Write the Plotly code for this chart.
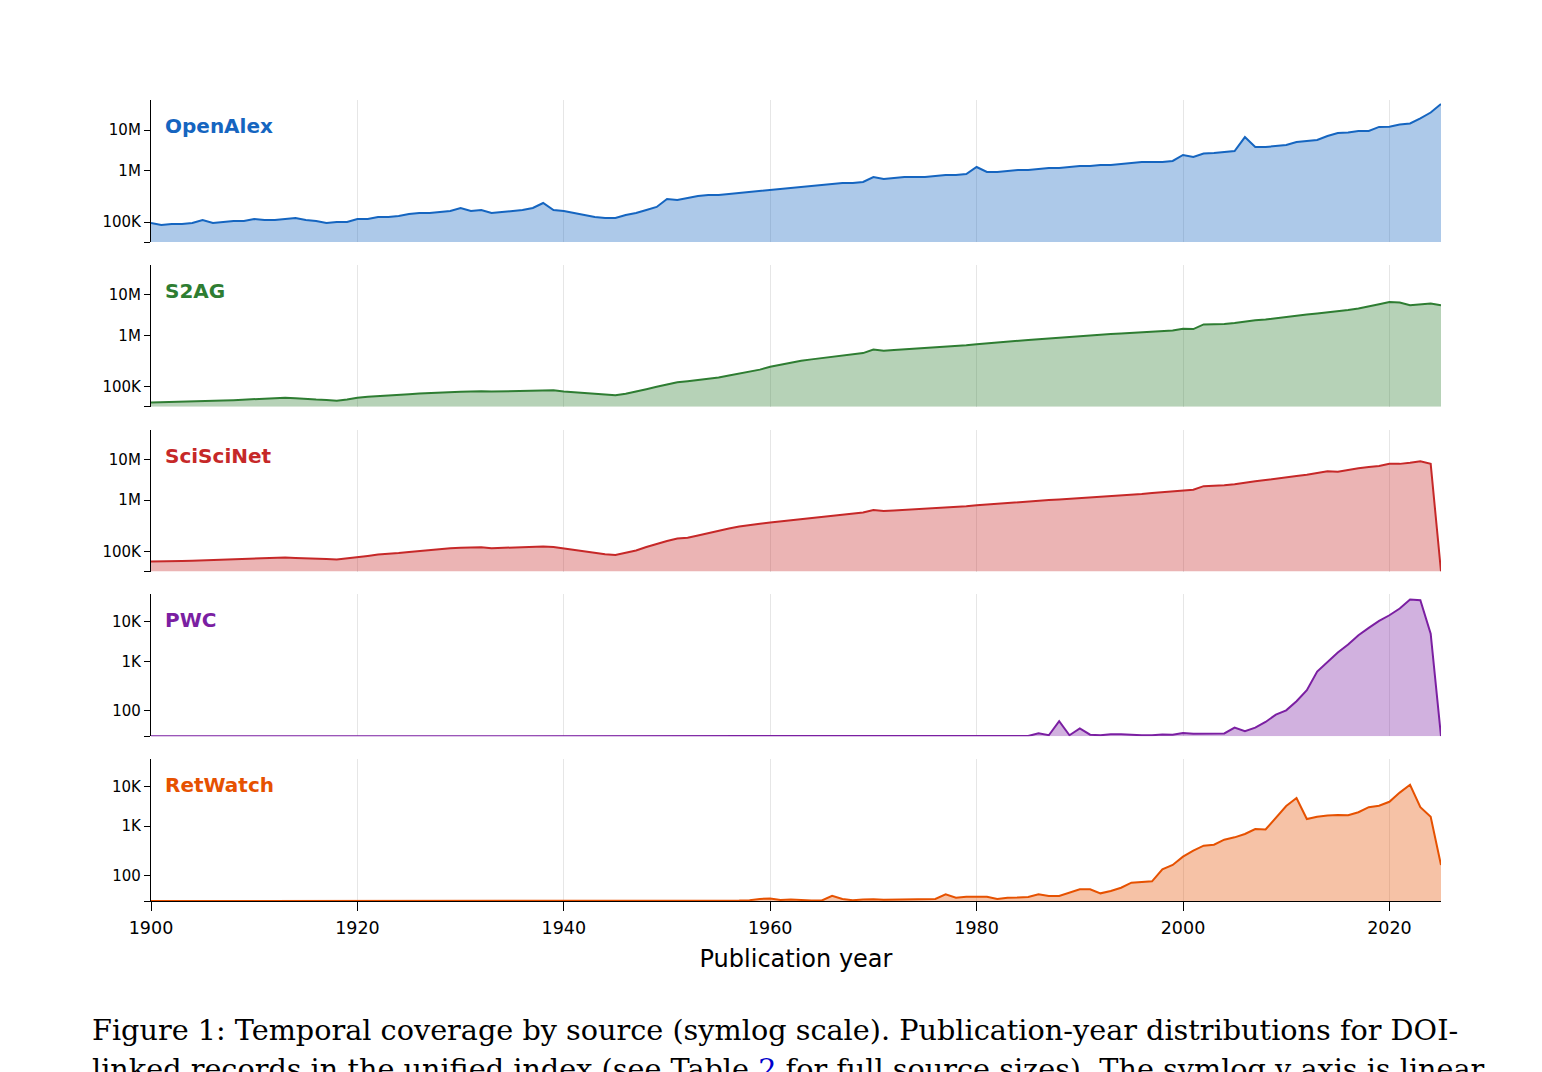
import numpy as np
import plotly.graph_objects as go

years = list(range(1900, 2026))

openalex = [
    95e3, 85e3, 90e3, 90e3, 95e3, 109e3, 95e3, 100e3, 105e3, 105e3,
    114e3, 109e3, 109e3, 114e3, 120e3, 109e3, 105e3, 95e3, 100e3, 100e3,
    114e3, 114e3, 125e3, 125e3, 131e3, 143e3, 150e3, 150e3, 156e3, 163e3,
    187e3, 163e3, 171e3, 150e3, 156e3, 163e3, 171e3, 187e3, 234e3, 171e3,
    163e3, 150e3, 137e3, 125e3, 120e3, 120e3, 137e3, 150e3, 171e3, 196e3,
    280e3, 268e3, 293e3, 320e3, 335e3, 335e3, 350e3, 366e3, 383e3, 400e3,
    418e3, 437e3, 457e3, 478e3, 500e3, 523e3, 547e3, 572e3, 572e3, 598e3,
    748e3, 684e3, 715e3, 748e3, 748e3, 748e3, 782e3, 817e3, 817e3, 855e3,
    1.22e6, 935e3, 935e3, 978e3, 1.03e6, 1.03e6, 1.09e6, 1.15e6, 1.15e6, 1.22e6,
    1.29e6, 1.29e6, 1.37e6, 1.37e6, 1.45e6, 1.53e6, 1.62e6, 1.62e6, 1.62e6, 1.72e6,
    2.42e6, 2.15e6, 2.63e6, 2.7e6, 2.86e6, 3.03e6, 6.7e6, 3.8e6, 3.8e6, 4.03e6,
    4.27e6, 5.06e6, 5.36e6, 5.68e6, 7.1e6, 8.45e6, 8.7e6, 9.5e6, 9.5e6, 11.9e6,
    12.1e6, 13.7e6, 14.5e6, 19.3e6, 27e6, 44e6,
]

s2ag = [
    21e3, 22e3, 23e3, 24e3, 25e3, 27e3, 29e3, 31e3, 33e3, 35e3,
    38e3, 40e3, 42e3, 45e3, 43e3, 38e3, 36e3, 34e3, 30e3, 36e3,
    45e3, 50e3, 54e3, 57e3, 60e3, 63e3, 66e3, 69e3, 71e3, 73e3,
    75e3, 76e3, 78e3, 76e3, 77e3, 79e3, 81e3, 82e3, 84e3, 82e3,
    76e3, 72e3, 67e3, 62e3, 59e3, 57e3, 65e3, 75e3, 88e3, 100e3,
    112e3, 122e3, 128e3, 135e3, 145e3, 152e3, 165e3, 180e3, 195e3, 215e3,
    245e3, 270e3, 300e3, 320e3, 340e3, 360e3, 385e3, 410e3, 430e3, 450e3,
    530e3, 500e3, 520e3, 535e3, 545e3, 560e3, 580e3, 600e3, 620e3, 640e3,
    670e3, 700e3, 720e3, 750e3, 780e3, 810e3, 840e3, 870e3, 900e3, 940e3,
    980e3, 1.02e6, 1.05e6, 1.08e6, 1.11e6, 1.15e6, 1.19e6, 1.23e6, 1.27e6, 1.31e6,
    1.45e6, 1.42e6, 1.85e6, 1.85e6, 1.9e6, 2.0e6, 2.2e6, 2.35e6, 2.45e6, 2.65e6,
    2.85e6, 3.05e6, 3.25e6, 3.45e6, 3.65e6, 3.9e6, 4.2e6, 4.6e6, 5.1e6, 5.8e6,
    6.6e6, 6.4e6, 5.5e6, 5.7e6, 6.1e6, 5.5e6,
]

sciscinet = [
    50e3, 52e3, 53e3, 53e3, 54e3, 56e3, 57e3, 58e3, 60e3, 62e3,
    64e3, 66e3, 68e3, 70e3, 68e3, 65e3, 63e3, 62e3, 60e3, 65e3,
    72e3, 78e3, 85e3, 88e3, 92e3, 98e3, 103e3, 107e3, 111e3, 115e3,
    118e3, 119e3, 121e3, 116e3, 118e3, 121e3, 123e3, 124e3, 125e3, 122e3,
    114e3, 108e3, 100e3, 92e3, 86e3, 82e3, 92e3, 105e3, 122e3, 140e3,
    160e3, 178e3, 185e3, 205e3, 230e3, 256e3, 280e3, 305e3, 330e3, 345e3,
    366e3, 385e3, 400e3, 430e3, 455e3, 478e3, 505e3, 530e3, 550e3, 570e3,
    640e3, 610e3, 625e3, 640e3, 655e3, 670e3, 690e3, 710e3, 735e3, 760e3,
    790e3, 820e3, 845e3, 870e3, 900e3, 935e3, 970e3, 1.0e6, 1.03e6, 1.07e6,
    1.1e6, 1.14e6, 1.17e6, 1.21e6, 1.26e6, 1.32e6, 1.4e6, 1.48e6, 1.56e6, 1.62e6,
    1.78e6, 1.8e6, 2.2e6, 2.22e6, 2.3e6, 2.45e6, 2.7e6, 2.9e6, 3.1e6, 3.3e6,
    3.55e6, 3.9e6, 4.2e6, 4.6e6, 5.1e6, 5.0e6, 5.6e6, 6.1e6, 6.5e6, 6.9e6,
    7.8e6, 7.8e6, 8.3e6, 9.0e6, 7.8e6, 0,
]

pwc = [0] * 60 + [
    1, 0, 0, 0, 0, 1, 0, 0, 0, 0,          # 1960-1969
    0, 0, 1, 0, 0, 0, 0, 0, 0, 0,          # 1970-1979
    1, 0, 0, 0, 0, 1, 12, 4, 59, 4,        # 1980-1989
    31, 6, 4, 8, 8, 5, 4, 4, 7, 6,         # 1990-1999
    13, 10, 10, 10, 11, 34, 20, 34, 56, 85,  # 2000-2009
    102, 156, 260, 620, 970, 1660, 2650, 4550, 7000, 10500,  # 2010-2019
    14600, 21600, 36500, 35000, 5000, 0,   # 2020-2025
]

retwatch = [0] * 40 + [
    0, 1, 0, 0, 0, 0, 0, 0, 0, 0,          # 1940-1949
    0, 0, 0, 0, 0, 0, 0, 2, 3, 8,          # 1950-1959
    10, 4, 6, 3, 2, 2, 20, 8, 3, 6,        # 1960-1969
    7, 5, 6, 5, 6, 8, 8, 26, 13, 17,       # 1970-1979
    17, 17, 8, 13, 14, 16, 26, 20, 20, 34,  # 1980-1989
    46, 46, 30, 39, 52, 72, 75, 77, 133, 163,  # 1990-1999
    240, 318, 400, 420, 530, 590, 690, 870, 850, 1570,  # 2000-2009
    3200, 5100, 1500, 1720, 1850, 1900, 1880, 2230, 3000, 3250,  # 2010-2019
    4100, 7000, 11100, 3000, 1720, 163,    # 2020-2025
]

names = ["OpenAlex", "S2AG", "SciSciNet", "PWC", "RetWatch"]
series = [openalex, s2ag, sciscinet, pwc, retwatch]
colors = ["#1565C0", "#2E7D32", "#C62828", "#7B1FA2", "#E65100"]

M_TICKS = [0, 1e5, 1e6, 1e7]
M_LABELS = ["", "100K", "1M", "10M"]
K_TICKS = [0, 100, 1e3, 1e4]
K_LABELS = ["", "100", "1K", "10K"]
tick_sets = [(M_TICKS, M_LABELS)] * 3 + [(K_TICKS, K_LABELS)] * 2

# symlog-like axis geometry (position of each tick within a panel of height TOP)
M_POS = [0, 20, 71.5, 112]
K_POS = [0, 25.5, 75, 114.5]
pos_sets = [M_POS] * 3 + [K_POS] * 2
TOP = 142.0


def symlog(v, ticks, pos):
    v = np.asarray(v, dtype=float)
    lin = v / ticks[1] * pos[1]
    lt = np.log10(np.array(ticks[1:], dtype=float))
    lv = np.log10(np.maximum(v, ticks[1]))
    seg = np.interp(lv, lt, pos[1:])
    slope = (pos[-1] - pos[-2]) / (lt[-1] - lt[-2])
    seg = np.where(lv > lt[-1], pos[-1] + (lv - lt[-1]) * slope, seg)
    return np.where(v <= ticks[1], lin, seg)


def rgba(hexc, a):
    h = hexc.lstrip("#")
    r, g, b = int(h[0:2], 16), int(h[2:4], 16), int(h[4:6], 16)
    return f"rgba({r},{g},{b},{a})"


W, H = 1542, 1072
ML, MR, MT, MB = 151, 101, 100, 171
plot_h = H - MT - MB
bottom_px = 901.0

fig = go.Figure()
layout = {}
annotations = []
FONT = "DejaVu Sans"

for i, (name, vals, col) in enumerate(zip(names, series, colors)):
    sfx = "" if i == 0 else str(i + 1)
    ticks, labels = tick_sets[i]
    pos = pos_sets[i]
    yv = symlog(vals, ticks, pos)
    fig.add_trace(go.Scatter(
        x=years, y=yv, mode="lines",
        line=dict(color=col, width=2),
        fill="tozeroy", fillcolor=rgba(col, 0.35),
        xaxis=f"x{sfx}", yaxis=f"y{sfx}", showlegend=False, hoverinfo="skip",
    ))
    pb = 242 + 164.75 * i
    pt = pb - TOP
    dom = [(bottom_px - pb) / plot_h, (bottom_px - pt) / plot_h]
    last = (i == 4)
    xa = dict(
        domain=[0, 1], anchor=f"y{sfx}", range=[1900, 2025],
        showgrid=True, gridcolor="#e6e6e6", gridwidth=1,
        tick0=1900, dtick=20, zeroline=False,
        showline=last, linecolor="black", linewidth=1.3,
        showticklabels=last, ticks="outside" if last else "",
        ticklen=9, tickwidth=1.2, tickcolor="black", ticklabelstandoff=2,
        tickfont=dict(family=FONT, size=17.5, color="black"),
    )
    if last:
        xa["title"] = dict(text="Publication year", standoff=13,
                           font=dict(family=FONT, size=24, color="black"))
    layout[f"xaxis{sfx}"] = xa
    layout[f"yaxis{sfx}"] = dict(
        domain=dom, anchor=f"x{sfx}", range=[0, TOP],
        tickvals=list(symlog(ticks, ticks, pos)), ticktext=labels,
        showgrid=False, zeroline=False,
        showline=True, linecolor="black", linewidth=1.3,
        ticks="outside", ticklen=6, tickwidth=1.2, tickcolor="black",
        tickfont=dict(family=FONT, size=15, color="black"),
    )
    annotations.append(dict(
        text=f"<b>{name}</b>", xref=f"x{sfx} domain", yref=f"y{sfx} domain",
        x=(163 - ML) / (W - ML - MR), y=116 / TOP,
        xanchor="left", yanchor="middle", showarrow=False,
        font=dict(family=FONT, size=20, color=col),
    ))

cap_x = (90 - ML) / (W - ML - MR)
CAP_FONT = dict(family="DejaVu Serif", size=28.7, color="black")
annotations.append(dict(
    text="Figure 1: Temporal coverage by source (symlog scale). Publication-year distributions for DOI-",
    xref="paper", yref="paper", x=cap_x, y=(bottom_px - 1030) / plot_h,
    xanchor="left", yanchor="middle", showarrow=False, align="left",
    font=CAP_FONT,
))
annotations.append(dict(
    text="linked records in the unified index (see Table <span style='color:#0000cc'>2</span> for full source sizes). The symlog y axis is linear",
    xref="paper", yref="paper", x=cap_x, y=(bottom_px - 1069) / plot_h,
    xanchor="left", yanchor="middle", showarrow=False, align="left",
    font=CAP_FONT,
))

fig.update_layout(
    width=W, height=H,
    margin=dict(l=ML, r=MR, t=MT, b=MB, pad=0),
    paper_bgcolor="white", plot_bgcolor="white",
    annotations=annotations,
    **layout,
)

fig.write_html("out.html")
